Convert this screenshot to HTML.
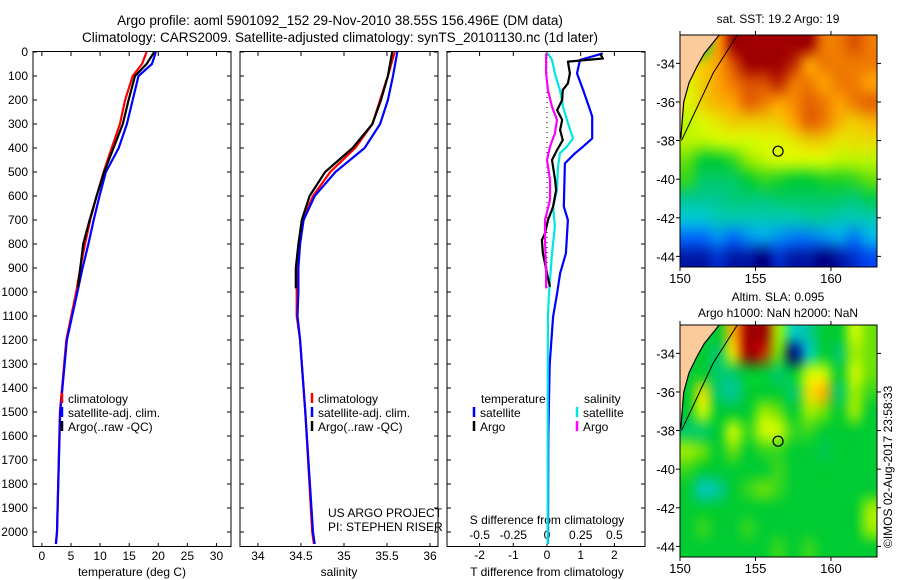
<!DOCTYPE html>
<html><head><meta charset="utf-8"><style>
body{margin:0;background:#fff;}
svg{display:block;font-family:"Liberation Sans",sans-serif;}
text{fill:#000;}
</style></head><body>
<svg id="root" width="900" height="580" viewBox="0 0 900 580">
<rect width="900" height="580" fill="#fff"/>
<text x="340" y="25" font-size="13.5" text-anchor="middle">Argo profile: aoml 5901092_152 29-Nov-2010 38.55S 156.496E (DM data)</text>
<text x="340" y="42" font-size="13.5" text-anchor="middle">Climatology: CARS2009. Satellite-adjusted climatology: synTS_20101130.nc (1d later)</text>
<g id="g"></g>
<text transform="translate(892,548) rotate(-90)" font-size="12">©IMOS 02-Aug-2017 23:58:33</text>
</svg>
<script>
// ---- profile data ----
const tClimDepth=[0,50,100,200,300,400,500,600,700,800,900,1000,1200,1500,2000,2050];
const tClim=[18.0,17.2,15.6,14.3,13.4,12.0,10.6,9.4,8.3,7.4,6.6,5.9,4.2,3.1,2.6,2.4];
const tSat=[19.6,18.9,16.6,15.6,14.6,13.2,11.0,9.9,8.9,8.0,7.0,6.1,4.3,3.15,2.6,2.4];
const tArgoDepth=[0,50,100,200,300,400,500,600,700,800,900,980];
const tArgo=[19.3,18.0,16.0,14.9,13.9,12.3,10.7,9.4,8.2,7.1,6.6,6.2];
const sClim=[35.59,35.51,35.42,35.33,35.13,34.84,34.64,34.52,34.48,34.45,34.45,34.45,34.49,34.55,34.63,34.65];
const sSat=[35.62,35.57,35.51,35.42,35.24,34.9,34.66,34.53,34.49,34.47,34.47,34.46,34.49,34.55,34.64,34.66];
const sDepth2=[0,100,200,300,400,500,600,700,800,900,1000,1100,1200,1500,2000,2050];
const sArgo=[35.56,35.51,35.43,35.33,35.1,34.78,34.6,34.51,34.47,34.44,34.44];
const sArgoDepth=[0,100,200,300,400,500,600,700,800,900,985];
// differences
const dTSatDepth=[6,33,89,158,242,269,360,394,422,464,644,700,839,922,1006,1103,1300,1600,2050];
const dTSat=[1.66,0.98,0.89,1.07,1.28,1.34,1.34,1.07,0.83,0.53,0.50,0.62,0.56,0.39,0.30,0.18,0.08,0.04,0.03];
const dSSatDepth=[6,33,89,158,228,297,360,394,422,478,575,644,728,839,1006,1103,1500,2050];
const dSSat=[0.007,0.037,0.059,0.096,0.119,0.156,0.193,0.148,0.096,0.082,0.074,0.045,0.059,0.037,0.015,0.007,0.005,0.005];
const dTArgoDepth=[6,27,40,89,131,158,200,242,283,325,367,408,450,533,575,644,700,756,783,839,922,978];
const dTArgo=[1.57,1.66,0.62,0.68,0.62,0.47,0.45,0.30,0.45,0.39,0.47,0.30,0.15,0.24,0.27,0.18,0.03,-0.06,-0.15,-0.12,0,0.09];
const dSArgoDepth=[6,89,158,228,283,339,394,450,533,617,700,783,922,985];
const dSArgo=[-0.007,-0.007,0.007,0.037,0.074,0.059,0.022,0,0.022,0.022,-0.015,-0.015,-0.007,-0.007];
const depthTicks=[0,100,200,300,400,500,600,700,800,900,1000,1100,1200,1300,1400,1500,1600,1700,1800,1900,2000];
const tTicks=[0,5,10,15,20,25,30];
const sTicks=[34,34.5,35,35.5,36];
const sTickLabels=["34","34.5","35","35.5","36"];
const dTTicks=[-2,-1,0,1,2];
const dSTicks=[-0.5,-0.25,0,0.25,0.5];
const dSTickLabels=["-0.5","-0.25","0","0.25","0.5"];
// ---- map data (rows lat -33..-44, cols lon 150..162, null = land) ----
const sstGrid=[
[null,null,20,22,22,22,22,22,22,20.5,20.5,21,20.5],
[19.5,19.5,20,21,22,22,22,21.5,20,20.5,20.5,20.5,20.5],
[19,19.5,20,20.5,21,21,21.5,20.5,20.5,20,20.5,20.5,20],
[19,19.5,19.8,20,20.8,20.5,20,20.3,20.8,20.5,20,20.5,20.8],
[18.5,19,19.2,19.5,19.5,19.5,19.5,20,20.8,20.5,19.8,19.5,19.8],
[18.5,18.5,18.7,18.8,18.8,19,19,19.2,19.5,19.5,19.2,19.3,19.3],
[17.5,16.5,16.5,17,18,18.5,18.8,18.8,18.8,18.8,18.5,18.5,18.5],
[17,16,16,16,16.5,17,16.8,16.5,16.5,16.8,16.8,17,17.5],
[15.5,15.5,15.5,15.8,15.8,15.8,16,16,16,16,16,15.8,16.2],
[14.5,14.5,15,15,15,15,15,15,15.3,15.3,15,15,15],
[13,13,13.5,13,13.5,13.8,13.5,13.2,13.2,13.5,13.8,13.2,14],
[11.5,11.5,12,11.5,11.5,11,12,11.5,11.5,11,11.5,12,12.5]];
const slaGrid=[
[0,0,0,0.6,1,1,0.3,-0.3,-0.2,0,0,0.4,0.2],
[0,0,-0.1,0.5,1,0.9,0.2,-1,-0.3,0,-0.1,0.3,0.2],
[0,0,-0.1,-0.1,0,0,-0.1,0,0.4,0.4,0,0.4,0.2],
[0,0.5,-0.1,-0.2,0,0,0,-0.1,0.5,0.6,-0.1,0.3,0.1],
[0,0.4,0,0,0,0.3,0.2,0,0.3,0.2,0,0.3,0],
[-0.1,-0.1,0,0.4,0.1,0.4,0.4,0.1,0.1,0,0,0,0],
[0.3,0.2,0,0.2,0,0.1,0.1,0,0,-0.05,0,0,0],
[0.1,0,0,0,0,0,0.1,0,0,0,0,0,0],
[0,-0.3,-0.2,0,0.1,0.2,0.1,0,0,0,0,0,0],
[0,0,0,0,0,0,0,0,0,0,0,0,0.3],
[0,0.1,0,0,0.1,0,0,0,0,0,0,0,0.3],
[0,0,0,0,0,0,0.1,0,0.1,0,0,0,0]];
const latTicks=[-34,-36,-38,-40,-42,-44];
const lonTicks=[150,155,160];
const argoLon=156.496, argoLat=-38.55;

const NS="http://www.w3.org/2000/svg";
const G=document.getElementById('g');
function el(tag,attrs,parent){const e=document.createElementNS(NS,tag);for(const k in attrs)e.setAttribute(k,attrs[k]);(parent||G).appendChild(e);return e;}
function txt(x,y,s,size,anchor,name){const t=el('text',{x:x,y:y,'font-size':size,'text-anchor':anchor||'start'});t.textContent=s;


return t;}
const y0=52, yk=0.24;
const Y=d=>y0+d*yk;
const panels=[{x0:33,x1:231,v0:-1.53,v1:32.5},{x0:240,x1:438,v0:33.791,v1:36.093},{x0:447,x1:645,v0:-2.967,v1:2.908}];
function X(p,v){const P=panels[p];return P.x0+(v-P.v0)/(P.v1-P.v0)*(P.x1-P.x0);}
const XS=v=>X(2,v*4);
panels.forEach((P,i)=>{const r=el('rect',{x:P.x0,y:y0-0.5,width:P.x1-P.x0,height:547-y0,fill:'none',stroke:'#000','stroke-width':1});


depthTicks.forEach(d=>{el('line',{x1:P.x0,x2:P.x0+4,y1:Y(d),y2:Y(d),stroke:'#000'});el('line',{x1:P.x1-4,x2:P.x1,y1:Y(d),y2:Y(d),stroke:'#000'});});
});
depthTicks.forEach(d=>txt(28,Y(d)+4,String(d),12,'end','depth-tick-label'));
tTicks.forEach(v=>{const x=X(0,v);el('line',{x1:x,x2:x,y1:543,y2:547,stroke:'#000'});el('line',{x1:x,x2:x,y1:52,y2:56,stroke:'#000'});txt(x,560,String(v),12,'middle','temp-tick-label');});
sTicks.forEach((v,i)=>{const x=X(1,v);el('line',{x1:x,x2:x,y1:543,y2:547,stroke:'#000'});el('line',{x1:x,x2:x,y1:52,y2:56,stroke:'#000'});txt(x,560,sTickLabels[i],12,'middle','sal-tick-label');});
dTTicks.forEach(v=>{const x=X(2,v);el('line',{x1:x,x2:x,y1:543,y2:547,stroke:'#000'});el('line',{x1:x,x2:x,y1:52,y2:56,stroke:'#000'});txt(x,559,String(v),12,'middle','tdiff-tick-label');});
dSTicks.forEach((v,i)=>txt(XS(v),539,dSTickLabels[i],12,'middle','sdiff-tick-label'));
txt(132,576,'temperature (deg C)',12,'middle','temp-axis-title');
txt(339,576,'salinity',12,'middle','sal-axis-title');
txt(547,576,'T difference from climatology',12,'middle','tdiff-axis-title');
txt(547,524,'S difference from climatology',12,'middle','sdiff-axis-title');
txt(328,517,'US ARGO PROJECT',12,'start','project-label');
txt(328,531,'PI: STEPHEN RISER',12,'start','pi-label');
el('line',{x1:X(2,0),x2:X(2,0),y1:Y(0),y2:Y(1000),stroke:'#000','stroke-dasharray':'1,4'});
function line(xs,ds,fx,color,name,w){const pts=xs.map((v,i)=>fx(v).toFixed(1)+','+Y(ds[i]).toFixed(1)).join(' ');
const l=el('polyline',{points:pts,fill:'none',stroke:color,'stroke-width':w||2.2,'stroke-linejoin':'round'});

}
line(tClim,tClimDepth,v=>X(0,v),'#ff0000','temp-climatology-line');
line(tSat,tClimDepth,v=>X(0,v),'#0000ff','temp-satellite-line');
line(tArgo,tArgoDepth,v=>X(0,v),'#000','temp-argo-line');
line(sClim,sDepth2,v=>X(1,v),'#ff0000','sal-climatology-line');
line(sSat,sDepth2,v=>X(1,v),'#0000ff','sal-satellite-line');
line(sArgo,sArgoDepth,v=>X(1,v),'#000','sal-argo-line');
line(dTSat,dTSatDepth,v=>X(2,v),'#0000ff','tdiff-satellite-line');
line(dSSat,dSSatDepth,XS,'#00e5e5','sdiff-satellite-line');
line(dTArgo,dTArgoDepth,v=>X(2,v),'#000','tdiff-argo-line');
line(dSArgo,dSArgoDepth,XS,'#ff00ff','sdiff-argo-line');
function leg(x,y,c,s,name){el('line',{x1:x,x2:x,y1:y-10,y2:y,stroke:c,'stroke-width':2.5});txt(x+6,y,s,12,'start',name);}
[62,312].forEach(x=>{leg(x,403,'#ff0000','climatology','legend-climatology');leg(x,417,'#0000ff','satellite-adj. clim.','legend-satellite');leg(x,431,'#000','Argo(..raw -QC)','legend-argo');});
txt(481,403,'temperature',12,'start','legend-temperature-header');
txt(584,403,'salinity',12,'start','legend-salinity-header');
leg(474,417,'#0000ff','satellite','legend-tdiff-satellite');
leg(474,431,'#000','Argo','legend-tdiff-argo');
leg(577,417,'#00e5e5','satellite','legend-sdiff-satellite');
leg(577,431,'#ff00ff','Argo','legend-sdiff-argo');
// ---- maps ----
const stops=[[0,[0,0,128]],[0.15,[0,80,255]],[0.3,[0,200,230]],[0.42,[0,200,140]],[0.5,[0,204,51]],[0.62,[130,230,0]],[0.72,[221,255,0]],[0.82,[255,160,0]],[0.9,[225,90,0]],[1,[160,0,0]]];
function cmap(t){t=Math.max(0,Math.min(1,t));for(let i=1;i<stops.length;i++){if(t<=stops[i][0]){const a=stops[i-1],b=stops[i],f=(t-a[0])/(b[0]-a[0]);return a[1].map((c,k)=>Math.round(c+(b[1][k]-c)*f));}}return stops[stops.length-1][1];}
function drawMap(top,bottom,grid,norm,name){
 const L=680,R=877;const lonX=lon=>L+(lon-150)*(R-L)/13.05;const latY=lat=>top+(-32.53-lat)*(bottom-top)/12.02;
 const fo=el('foreignObject',{x:L,y:top,width:R-L,height:bottom-top});
 const cv=document.createElement('canvas');cv.width=R-L;cv.height=bottom-top;cv.style.display='block';
 
 
 fo.appendChild(cv);
 const nr=grid.length,nc=grid[0].length;
 const sm=document.createElement('canvas');sm.width=nc;sm.height=nr;const sc=sm.getContext('2d');const im=sc.createImageData(nc,nr);
 grid.forEach((row,r)=>row.forEach((v,c)=>{const col=v===null?[0,204,51]:cmap(norm(v));const i=(r*nc+c)*4;im.data[i]=col[0];im.data[i+1]=col[1];im.data[i+2]=col[2];im.data[i+3]=255;}));
 sc.putImageData(im,0,0);
 const ctx=cv.getContext('2d');ctx.imageSmoothingEnabled=true;ctx.imageSmoothingQuality='high';
 ctx.drawImage(sm,0,0,cv.width,cv.height);
 const coast=[[lonX(152.6),top],[lonX(151.6),latY(-33.5)],[lonX(151.1),latY(-34.2)],[lonX(150.6),latY(-35)],[lonX(150.25),latY(-36)],[lonX(150.05),latY(-37.9)]];
 const land=el('polygon',{points:[[L,top]].concat(coast).concat([[L,latY(-37.9)]]).map(p=>p.join(',')).join(' '),fill:'#fccb9c'});
 
 
 el('polyline',{points:coast.map(p=>p.join(',')).join(' '),fill:'none',stroke:'#000','stroke-width':1.2});
 el('polyline',{points:[[lonX(153.8),top],[lonX(152.2),latY(-34.5)],[lonX(151),latY(-36.5)],[lonX(150.1),latY(-38)]].map(p=>p.join(',')).join(' '),fill:'none',stroke:'#000','stroke-width':1});
 const fr=el('rect',{x:L,y:top,width:R-L,height:bottom-top,fill:'none',stroke:'#000'});
 
 
 latTicks.forEach(lat=>{const y=latY(lat);el('line',{x1:L-4,x2:L,y1:y,y2:y,stroke:'#000'});el('line',{x1:R,x2:R+4,y1:y,y2:y,stroke:'#000'});txt(L-5,y+5,String(lat),13,'end',name+'-lat-label');});
 lonTicks.forEach(lon=>{const x=lonX(lon);el('line',{x1:x,x2:x,y1:top-4,y2:top,stroke:'#000'});el('line',{x1:x,x2:x,y1:bottom,y2:bottom+4,stroke:'#000'});txt(x,bottom+16,String(lon),13,'middle',name+'-lon-label');});
 const c=el('circle',{cx:lonX(argoLon),cy:latY(argoLat),r:5,fill:'none',stroke:'#000','stroke-width':1.2});
 
 
}
drawMap(35,267,sstGrid,v=>(v-11)/11,'sst-map');
drawMap(325,557,slaGrid,v=>0.5+v*0.5,'sla-map');
txt(778,23,'sat. SST: 19.2 Argo: 19',12,'middle','sst-map-title');
txt(778,301,'Altim. SLA: 0.095',12,'middle','sla-map-title');
txt(778,317,'Argo h1000: NaN h2000: NaN',12,'middle','sla-map-subtitle');
</script>
</body></html>
